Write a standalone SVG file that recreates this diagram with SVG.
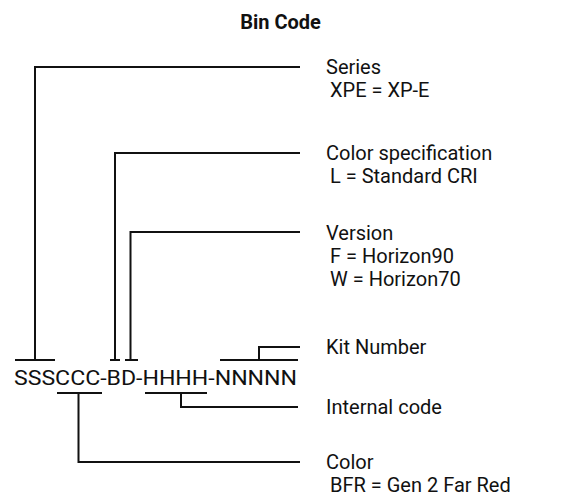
<svg xmlns="http://www.w3.org/2000/svg" width="561" height="501" viewBox="0 0 561 501">
<style>
text{font-family:Roboto,"Liberation Sans",sans-serif;fill:#111;font-size:20px}
.title{font-weight:bold;font-size:20px}
.c path{fill:none;stroke:#111;stroke-width:2}
</style>
<rect width="561" height="501" fill="#fff"/>
<text class="title" x="280.5" y="29" text-anchor="middle">Bin Code</text>
<g id="code"><text x="14" y="385" font-size="21" textLength="283" lengthAdjust="spacingAndGlyphs">SSSCCC-BD-HHHH-NNNNN</text></g>
<g class="c" id="connectors">
<path d="M15,360H55M35,360V67H300"/>
<path d="M110,360H120M115,360V153H300"/>
<path d="M125,360H138M130.5,360V232H300"/>
<path d="M220,360H298M259,360V347H300"/>
<path d="M145,393H207M181,393V407H298"/>
<path d="M57,393H102M78.5,393V462H300"/>
</g>
<g id="series"><text x="326" y="74">Series</text><text x="330" y="97">XPE = XP-E</text></g>
<g id="colorspec"><text x="326" y="160">Color specification</text><text x="330" y="183">L = Standard CRI</text></g>
<g id="version"><text x="326" y="240">Version</text><text x="330" y="263">F = Horizon90</text><text x="330" y="286">W = Horizon70</text></g>
<g id="kit"><text x="326" y="354">Kit Number</text></g>
<g id="internal"><text x="326" y="414">Internal code</text></g>
<g id="color"><text x="326" y="469">Color</text><text x="330" y="492">BFR = Gen 2 Far Red</text></g>
</svg>
